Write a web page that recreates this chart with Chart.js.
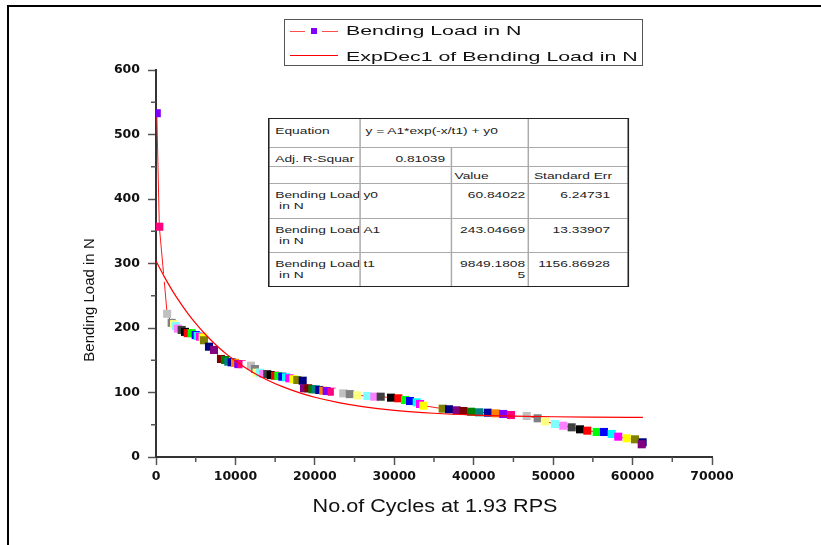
<!DOCTYPE html>
<html><head><meta charset="utf-8">
<script src="https://cdn.jsdelivr.net/npm/chart.js@4.4.0/dist/chart.umd.min.js"></script>
<style>
html,body{margin:0;padding:0;background:#fff;}
#wrap{position:relative;width:821px;height:545px;overflow:hidden;font-family:"Liberation Sans",Arial,sans-serif;}
#c{position:absolute;left:0;top:0;}
#frame{position:absolute;left:7px;top:5px;width:830px;height:560px;border-top:2px solid #000;border-left:2px solid #000;pointer-events:none;}
#legend{position:absolute;left:284px;top:19px;width:357px;height:45px;border:1px solid #555;background:#fff;}
#legend .seg{position:absolute;height:0;}
#legend .sq{position:absolute;width:6px;height:6px;background:#8000FF;}
#legend .lt{position:absolute;left:61px;font-size:13.5px;color:#111;white-space:nowrap;transform:scaleX(1.58);transform-origin:left center;line-height:16px;}
#ytitle{position:absolute;left:89px;top:300px;transform:translate(-50%,-50%) rotate(-90deg);white-space:nowrap;font-size:15px;line-height:18px;color:#111;}
#xtitle{position:absolute;left:435px;top:506px;transform:translate(-50%,-50%) scaleX(1.2);white-space:nowrap;font-size:18px;line-height:22px;color:#111;}
#tbl{position:absolute;left:268px;top:118px;transform:scaleX(1.45);transform-origin:0 0;border-collapse:collapse;table-layout:fixed;width:247.6px;font-size:9.5px;color:#222;line-height:11px;outline:1px solid #222;outline-offset:-1px;background:#fff;font-family:"Liberation Sans",Arial,sans-serif;}
#tbl td{border:1px solid #aaa;padding:0;vertical-align:top;overflow:hidden;white-space:nowrap;}
#tbl td.l{text-align:left;padding-left:4px;}
#tbl td.r{text-align:right;padding-right:2px;}
</style>
</head><body>
<div id="wrap">
<canvas id="c" width="821" height="545"></canvas>
<div id="frame"></div>
<div id="ytitle">Bending Load in N</div>
<div id="xtitle">No.of Cycles at 1.93 RPS</div>
<div id="legend">
  <div class="seg" style="left:5px;width:15px;top:11px;border-top:1px solid #ff4d4d;"></div>
  <div class="sq" style="left:26px;top:8px;"></div>
  <div class="seg" style="left:37px;width:16px;top:11px;border-top:1px solid #ff4d4d;"></div>
  <div class="lt" style="top:3px;">Bending Load in N</div>
  <div class="seg" style="left:5px;width:48px;top:35px;border-top:1px solid #ff0000;"></div>
  <div class="lt" style="top:29px;">ExpDec1 of Bending Load in N</div>
</div>
<table id="tbl">
<colgroup><col style="width:62.8px"><col style="width:62.8px"><col style="width:53.8px"><col style="width:68.2px"></colgroup>
<tr style="height:29px"><td class="l" style="padding-top:6px">Equation</td><td class="l" colspan="2" style="padding-top:6px;padding-left:3.4px">y = A1*exp(-x/t1) + y0</td><td></td></tr>
<tr style="height:19px"><td class="l" style="padding-top:5px">Adj. R-Squar</td><td class="r" style="padding-top:5px;padding-right:3.4px">0.81039</td><td></td><td></td></tr>
<tr style="height:17px"><td></td><td></td><td class="l" style="padding-top:3px;padding-left:2px">Value</td><td class="l" style="padding-top:3px;padding-left:3px">Standard Err</td></tr>
<tr style="height:35px"><td class="l" style="padding-top:5px">Bending Load<br>&nbsp;in N</td><td class="l" style="padding-top:5px;padding-left:2px">y0</td><td class="r" style="padding-top:5px">60.84022</td><td class="r" style="padding-top:5px;padding-right:11.7px">6.24731</td></tr>
<tr style="height:34px"><td class="l" style="padding-top:5px">Bending Load<br>&nbsp;in N</td><td class="l" style="padding-top:5px;padding-left:2px">A1</td><td class="r" style="padding-top:5px">243.04669</td><td class="r" style="padding-top:5px;padding-right:11.7px">13.33907</td></tr>
<tr style="height:34px"><td class="l" style="padding-top:5px">Bending Load<br>&nbsp;in N</td><td class="l" style="padding-top:5px;padding-left:2px">t1</td><td class="r" style="padding-top:5px">9849.1808<br>5</td><td class="r" style="padding-top:5px;padding-right:11.7px">1156.86928</td></tr>
</table>
</div>
<script>
// Measured data (No. of cycles, bending load in N)
const cycles = [100, 420, 1000, 1400, 1970, 2270, 2500, 2750, 3230, 3650,
  3990, 4490, 5000, 5250, 5540, 5880, 6040, 6670, 7300, 8180,
  8690, 9100, 9530, 9950, 10360, 10790, 11400, 11960, 12460, 12670,
  13090, 13510, 14010, 14440, 14980, 15400, 15900, 16370, 16790, 17290,
  17790, 18470, 18630, 19170, 19680, 20100, 20560, 21060, 21490, 22120,
  22900, 23580, 24400, 25350, 26600, 27480, 28290, 29590, 30510, 31350,
  31980, 32820, 33240, 33660, 36090, 36890, 37860, 38700, 39660, 40670,
  41760, 42770, 43720, 44690, 45700, 46670, 48050, 48970, 50230, 51280,
  52330, 53380, 54300, 55480, 56400, 57370, 58200, 59260, 60310, 61270, 61150];
const load = [533, 357, 278, 222, 208, 206, 203, 199, 197, 194,
  192, 192, 189, 187.6, 186.5, 185.5, 181, 171, 166, 152,
  150.4, 147.8, 146.8, 146, 144, 144, 143, 141.6, 136.4, 130.7,
  130.7, 128.7, 128.7, 127, 126, 125.6, 124.5, 123.6, 122, 120.5,
  119.4, 118.3, 106.5, 106.5, 105, 105, 103.9, 102.8, 102.3, 101.2,
  100, 98.7, 97.5, 95.6, 94.6, 93.5, 93.5, 92, 91, 88.4,
  86.8, 84.8, 82.2, 79.6, 74.9, 74, 72.4, 71.3, 70.2, 69.3,
  68.7, 67.7, 66.7, 65.1, 64.5, 63.6, 60, 55.2, 51.2, 48.5,
  46, 42.9, 40.8, 38.8, 38.8, 35.7, 31.5, 29, 27.4, 22.8, 19.7];
// Fitted curve
const fitCycles = [0, 1000, 2000, 3000, 4000, 5000, 6000, 7000, 8000, 9000, 10000,
  12000, 14000, 16000, 18000, 20000, 23000, 26000, 30000, 35000, 40000, 45000, 50000, 55000, 61300];
const fitLoad = [303.9, 280.4, 259.2, 240.1, 222.8, 207.1, 193.0, 180.3, 168.7, 158.3, 148.9,
  132.7, 119.5, 108.7, 99.9, 92.7, 84.4, 78.2, 72.4, 67.8, 65.0, 63.4, 62.4, 61.8, 61.3];
const xTicks = [0, 10000, 20000, 30000, 40000, 50000, 60000, 70000];
const yTicks = [0, 100, 200, 300, 400, 500, 600];
const xMinor = [5000, 15000, 25000, 35000, 45000, 55000, 65000];
const yMinor = [50, 150, 250, 350, 450, 550];
const palette = ['#8000FF','#FF0080','#FFFFFF','#C0C0C0','#808080','#FFFF80','#80FFFF','#FF80FF',
  '#404040','#000000','#FF0000','#00FF00','#0000FF','#00FFFF','#FF00FF','#FFFF00',
  '#808000','#000080','#800080','#800000','#008000','#008080','#0000A0','#FF8000'];

const TICKFONT = "'DejaVu Sans', 'Liberation Sans', Arial, sans-serif";
const pointColors = cycles.map((_, i) => palette[i % palette.length]);

const minorTicks = {
  id: 'minorTicks',
  afterDraw(chart) {
    const {ctx, scales: {x, y}, chartArea: a} = chart;
    ctx.save();
    ctx.strokeStyle = '#555';
    ctx.lineWidth = 1.5;
    ctx.beginPath();
    xMinor.forEach(v => { const p = x.getPixelForValue(v); ctx.moveTo(p, a.bottom); ctx.lineTo(p, a.bottom + 5); });
    yMinor.forEach(v => { const p = y.getPixelForValue(v); ctx.moveTo(a.left, p); ctx.lineTo(a.left - 5, p); });
    ctx.stroke();
    ctx.restore();
  }
};

new Chart(document.getElementById('c'), {
  type: 'scatter',
  data: {
    datasets: [
      {
        label: 'ExpDec1 of Bending Load in N',
        data: fitCycles.map((x, i) => ({x, y: fitLoad[i]})),
        showLine: true, borderColor: '#ff0000', borderWidth: 1.2,
        pointRadius: 0, cubicInterpolationMode: 'monotone', order: 0
      },
      {
        label: 'Bending Load in N',
        data: cycles.map((x, i) => ({x, y: load[i]})),
        showLine: true, borderColor: '#ff1a1a', borderWidth: 1,
        pointStyle: 'rect', pointRadius: 5.7, pointBackgroundColor: pointColors,
        pointBorderWidth: 0, order: 1
      }
    ]
  },
  options: {
    responsive: false, animation: false, devicePixelRatio: 1,
    events: [],
    layout: {padding: {left: 76, right: 109, top: 70, bottom: 18}},
    plugins: {legend: {display: false}, tooltip: {enabled: false}},
    scales: {
      x: {
        type: 'linear', min: 0, max: 70000,
        afterBuildTicks: s => { s.ticks = xTicks.map(v => ({value: v})); },
        afterFit: s => { s.height = 70; },
        ticks: {callback: v => String(v), font: {family: TICKFONT, weight: 'bold', size: 12.5}, color: '#111', padding: 4, maxRotation: 0, autoSkip: false},
        grid: {drawOnChartArea: false, drawTicks: true, tickLength: 8, tickColor: '#555', tickWidth: 1.5},
        border: {color: '#333', width: 2}
      },
      y: {
        type: 'linear', min: 0, max: 600,
        afterBuildTicks: s => { s.ticks = yTicks.map(v => ({value: v})); },
        afterFit: s => { s.width = 80; },
        ticks: {callback: v => String(v), font: {family: TICKFONT, weight: 'bold', size: 12.5}, color: '#111', padding: 8, autoSkip: false},
        grid: {drawOnChartArea: false, drawTicks: true, tickLength: 8, tickColor: '#555', tickWidth: 1.5},
        border: {color: '#333', width: 2}
      }
    }
  },
  plugins: [minorTicks]
});
</script>
</body></html>
